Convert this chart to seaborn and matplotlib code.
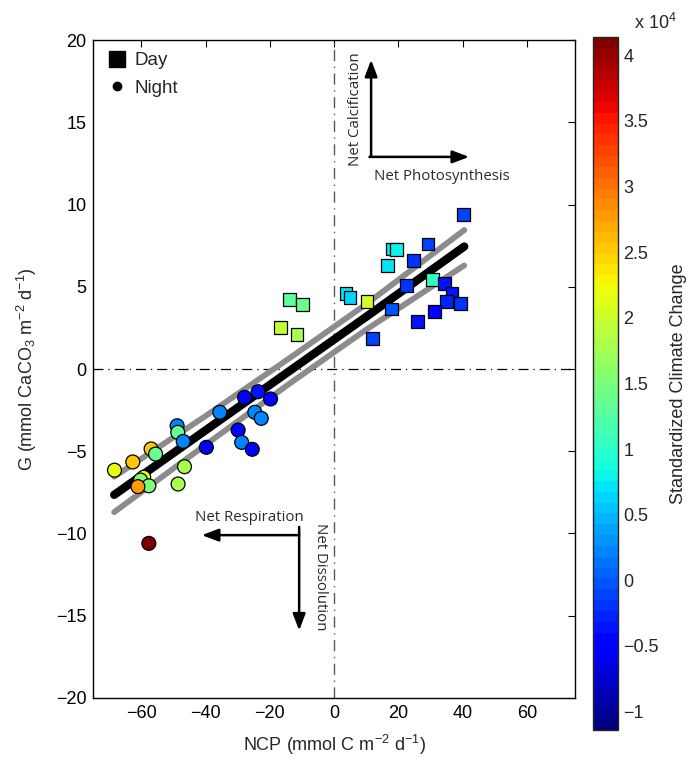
import numpy as np
import pandas as pd
import matplotlib
matplotlib.use("Agg")
import matplotlib.pyplot as plt
import seaborn as sns
from matplotlib.lines import Line2D

sns.set_style("white")
plt.rcParams['font.family'] = ['Liberation Sans', 'DejaVu Sans']
plt.rcParams['mathtext.fontset'] = 'custom'
plt.rcParams['mathtext.rm'] = 'Liberation Sans'
plt.rcParams['mathtext.it'] = 'Liberation Sans'

# ---- data ----
day_ncp = [40.2, 29.2, 18.2, 19.3, 24.6, 16.6, 22.4, 30.6, 34.3, 36.7, 34.9, 39.3,
           31.3, 25.9, 17.8, 11.9, 3.7, 4.9, 10.2, -13.8, -9.9, -16.6, -11.6]
day_g = [9.4, 7.6, 7.3, 7.25, 6.6, 6.3, 5.1, 5.45, 5.2, 4.6, 4.1, 4.0,
         3.5, 2.9, 3.65, 1.85, 4.6, 4.35, 4.1, 4.25, 3.9, 2.55, 2.1]
day_scc = [-0.1, -0.1, 0.75, 0.8, -0.15, 0.75, -0.2, 1.05, -0.35, -0.35, -0.3, -0.15,
           -0.55, -0.35, -0.05, -0.1, 0.75, 0.65, 2.0, 1.3, 1.35, 1.95, 1.8]

night_ncp = [-68.4, -62.7, -57.0, -55.6, -48.9, -48.7, -47.0, -46.6, -48.6, -59.3,
             -60.3, -57.7, -61.1, -39.8, -35.6, -27.9, -23.7, -19.8, -24.7, -22.7,
             -29.9, -28.8, -25.5, -57.7]
night_g = [-6.15, -5.65, -4.86, -5.17, -3.45, -3.85, -4.4, -5.94, -6.99, -6.58,
           -6.75, -7.1, -7.15, -4.76, -2.63, -1.72, -1.38, -1.82, -2.63, -3.0,
           -3.71, -4.46, -4.88, -10.6]
night_scc = [2.2, 2.55, 2.55, 1.4, 0.25, 1.4, 0.2, 1.8, 1.8, 2.2,
             1.5, 1.55, 2.8, -0.55, 0.25, -0.4, -0.35, -0.55, 0.25, 0.25,
             -0.55, 0.25, -0.45, 4.1]

# regression line and bounds
line_x = [-68.5, -40, -14, 10, 40.5]
fit_y = [-7.65, -3.72, -0.13, 3.18, 7.45]
upper_y = [-6.55, -2.85, 0.65, 3.95, 8.45]
lower_y = [-8.7, -4.6, -0.9, 2.4, 6.3]

cbar_ticks = [-1, -0.5, 0, 0.5, 1, 1.5, 2, 2.5, 3, 3.5, 4]
scc_scale = 1e4
scc_lim = (-1.14, 4.14)

day = pd.DataFrame({"NCP": day_ncp, "G": day_g, "SCC": np.array(day_scc) * scc_scale})
night = pd.DataFrame({"NCP": night_ncp, "G": night_g, "SCC": np.array(night_scc) * scc_scale})
lines = pd.DataFrame({"x": line_x, "fit": fit_y, "up": upper_y, "lo": lower_y})

cmap = plt.get_cmap("jet", 64)
norm = matplotlib.colors.Normalize(scc_lim[0] * scc_scale, scc_lim[1] * scc_scale)

fig = plt.figure(figsize=(6.92, 7.57), dpi=100)
ax = fig.add_axes([0.1348, 0.078, 0.6962, 0.869])
cax = fig.add_axes([0.857, 0.0357, 0.036, 0.9155])

# reference lines
ax.axvline(0, color="0.35", lw=1.0, ls=(0, (8, 4, 1, 4)), zorder=1)
ax.axhline(0, color="black", lw=0.9, ls=(0, (8, 4, 1, 4)), zorder=1)

sns.lineplot(data=lines, x="x", y="up", ax=ax, color="0.55", lw=4.2, zorder=2, solid_capstyle="round")
sns.lineplot(data=lines, x="x", y="lo", ax=ax, color="0.55", lw=4.2, zorder=2, solid_capstyle="round")
sns.lineplot(data=lines, x="x", y="fit", ax=ax, color="black", lw=6.0, zorder=3, solid_capstyle="round")

sns.scatterplot(data=day, x="NCP", y="G", hue="SCC", palette=cmap, hue_norm=norm,
                marker="s", s=85, edgecolor="black", linewidth=0.9, legend=False, ax=ax, zorder=4)
sns.scatterplot(data=night, x="NCP", y="G", hue="SCC", palette=cmap, hue_norm=norm,
                marker="o", s=100, edgecolor="black", linewidth=0.9, legend=False, ax=ax, zorder=4)

ax.set_xlim(-75, 75)
ax.set_ylim(-20, 20)
ax.set_xticks([-60, -40, -20, 0, 20, 40, 60])
ax.set_yticks([-20, -15, -10, -5, 0, 5, 10, 15, 20])
ax.set_xticklabels(["\u221260", "\u221240", "\u221220", "0", "20", "40", "60"])
ax.set_yticklabels(["\u221220", "\u221215", "\u221210", "\u22125", "0", "5", "10", "15", "20"])
ax.tick_params(direction="in", top=True, right=True, length=5, width=0.8, labelsize=13,
               colors="black", pad=5)
for sp in ax.spines.values():
    sp.set_color("black")
    sp.set_linewidth(1.0)
ax.set_xlabel("NCP (mmol C m$^{-2}$ d$^{-1}$)", fontsize=13, labelpad=8)
ax.set_ylabel("G (mmol CaCO$_3$ m$^{-2}$ d$^{-1}$)", fontsize=13, labelpad=12)

# legend
handles = [Line2D([], [], marker="s", color="black", ls="none", markersize=11),
           Line2D([], [], marker="o", color="black", ls="none", markersize=6)]
ax.legend(handles, ["Day", "Night"], loc="upper left", frameon=False, fontsize=13.5,
          handletextpad=0.35, handlelength=1.2, borderaxespad=0.25, labelspacing=0.55,
          bbox_to_anchor=(0.0, 1.0))

# annotation arrows
afont = ['Open Sans', 'DejaVu Sans']
arrow_kw = dict(arrowstyle="-|>,head_length=1.0,head_width=0.38", color="black", lw=1.8, shrinkA=0, shrinkB=0)
ax.annotate("", xy=(11.5, 18.8), xytext=(11.5, 12.9), arrowprops=arrow_kw)
ax.annotate("", xy=(42.0, 12.9), xytext=(11.0, 12.9), arrowprops=arrow_kw)
ax.text(33.4, 11.7, "Net Photosynthesis", ha="center", va="center", fontsize=10.8,
        family=afont, color="#2a2a2a")
ax.text(6.7, 15.8, "Net Calcification", ha="center", va="center", rotation=90, fontsize=10.8,
        family=afont, color="#2a2a2a")
ax.annotate("", xy=(-41.2, -10.1), xytext=(-10.9, -10.1), arrowprops=arrow_kw)
ax.annotate("", xy=(-10.9, -15.9), xytext=(-10.9, -9.6), arrowprops=arrow_kw)
ax.text(-26.5, -9.0, "Net Respiration", ha="center", va="center", fontsize=10.8,
        family=afont, color="#2a2a2a")
ax.text(-4.4, -12.6, "Net Dissolution", ha="center", va="center", rotation=-90, fontsize=10.8,
        family=afont, color="#2a2a2a")

# colorbar
sm = matplotlib.cm.ScalarMappable(norm=norm, cmap=cmap)
cb = fig.colorbar(sm, cax=cax)
cb.set_ticks(np.array(cbar_ticks) * scc_scale)
cb.set_ticklabels([("\u2212" + str(abs(t)).rstrip("0").rstrip(".") if t < 0 else
                    (str(t).rstrip("0").rstrip(".") if t != 0 else "0")) for t in cbar_ticks])
cax.tick_params(direction="in", length=4, width=0.8, labelsize=13, left=True, right=True, pad=4)
cb.outline.set_linewidth(1.0)
cb.set_label("Standardized Climate Change", fontsize=13, labelpad=8)
cax.text(1.65, 1.005, "x 10$^4$", transform=cax.transAxes, fontsize=13, ha="left", va="bottom")

fig.savefig("out.png", dpi=100)
